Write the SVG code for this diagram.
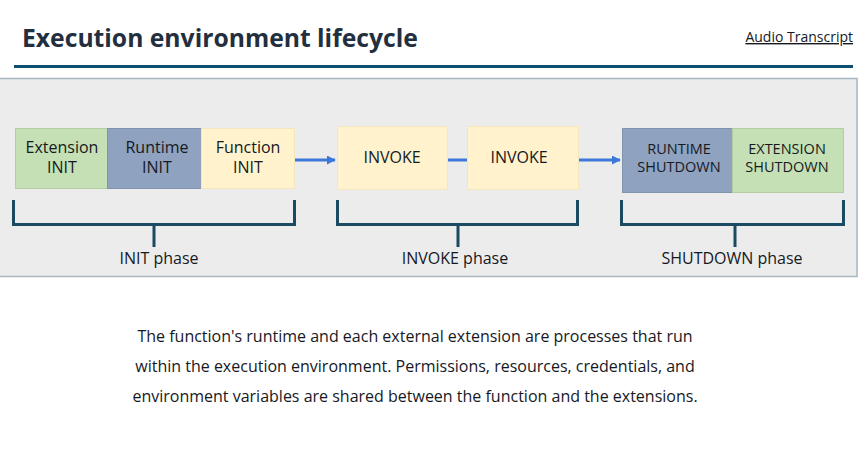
<svg xmlns="http://www.w3.org/2000/svg" width="860" height="458" viewBox="0 0 860 458">
<style>
text{font-family:"Open Sans","Noto Sans","Liberation Sans",sans-serif;fill:#16191f}
.box{stroke-width:1}
.lbl{font-size:16px;text-anchor:middle}
.cap{font-size:14.5px;text-anchor:middle}
.ph{font-size:16px;text-anchor:middle}
.br{fill:none;stroke:#1b4a63;stroke-width:3}
.con{stroke:#3c78d8;stroke-width:3;fill:none}
.body{font-size:16px;text-anchor:middle}
</style>
<defs>
<marker id="ah" viewBox="0 0 10 10" refX="9" refY="5" markerWidth="3" markerHeight="3" orient="auto" markerUnits="strokeWidth">
<path d="M0,0 L10,5 L0,10 z" fill="#3c78d8"/>
</marker>
</defs>
<rect width="860" height="458" fill="#ffffff"/>
<text x="22" y="47" style="font-size:24.7px;font-weight:bold;fill:#232f3e">Execution environment lifecycle</text>
<text x="853" y="42" style="font-size:14px;text-anchor:end;text-decoration:underline">Audio Transcript</text>
<line x1="14" y1="66.5" x2="853" y2="66.5" stroke="#0d4f6e" stroke-width="3"/>
<rect x="-1" y="78.5" width="858" height="198" fill="#ececec" stroke="#a7b7c2" stroke-width="1.5"/>
<g id="extension-init">
<rect class="box" x="15.5" y="128.5" width="92" height="60" fill="#c5e0b4" stroke="#b3cca2"/>
<text class="lbl" x="62" y="153">Extension</text><text class="lbl" x="62" y="173">INIT</text>
</g>
<g id="runtime-init">
<rect class="box" x="107.5" y="128.5" width="94" height="60" fill="#8fa2bf" stroke="#8193ad"/>
<text class="lbl" x="157" y="153">Runtime</text><text class="lbl" x="157" y="173">INIT</text>
</g>
<g id="function-init">
<rect class="box" x="201.5" y="128.5" width="93" height="60" fill="#fff2cc" stroke="#f4e6bd"/>
<text class="lbl" x="248" y="153">Function</text><text class="lbl" x="248" y="173">INIT</text>
</g>
<g id="invoke-1">
<rect class="box" x="337.5" y="126.5" width="110" height="63" fill="#fff2cc" stroke="#f4e6bd"/>
<text class="lbl" x="392" y="163">INVOKE</text>
</g>
<g id="invoke-2">
<rect class="box" x="467.5" y="126.5" width="111" height="63" fill="#fff2cc" stroke="#f4e6bd"/>
<text class="lbl" x="519" y="163">INVOKE</text>
</g>
<g id="runtime-shutdown">
<rect class="box" x="622.5" y="128.5" width="110" height="64" fill="#8fa2bf" stroke="#8193ad"/>
<text class="cap" x="679" y="154">RUNTIME</text><text class="cap" x="679" y="172">SHUTDOWN</text>
</g>
<g id="extension-shutdown">
<rect class="box" x="732.5" y="128.5" width="111" height="64" fill="#c5e0b4" stroke="#b3cca2"/>
<text class="cap" x="787" y="154">EXTENSION</text><text class="cap" x="787" y="172">SHUTDOWN</text>
</g>
<g id="connectors">
<line class="con" x1="295" y1="160" x2="335" y2="160" marker-end="url(#ah)"/>
<line class="con" x1="448" y1="160" x2="467" y2="160"/>
<line class="con" x1="579" y1="160" x2="620" y2="160" marker-end="url(#ah)"/>
</g>
<g id="init-phase">
<path class="br" d="M13.5,200 V224.5 H294.5 V200 M154,224.5 V247"/>
<text class="ph" x="159" y="264">INIT phase</text>
</g>
<g id="invoke-phase">
<path class="br" d="M337.5,200 V224.5 H577.5 V200 M458,224.5 V247"/>
<text class="ph" x="455" y="264">INVOKE phase</text>
</g>
<g id="shutdown-phase">
<path class="br" d="M621.5,200 V224.5 H843.5 V200 M735,224.5 V247"/>
<text class="ph" x="732" y="264">SHUTDOWN phase</text>
</g>
<text class="body" x="415" y="342">The function's runtime and each external extension are processes that run</text>
<text class="body" x="415" y="372">within the execution environment. Permissions, resources, credentials, and</text>
<text class="body" x="415" y="402">environment variables are shared between the function and the extensions.</text>
</svg>
